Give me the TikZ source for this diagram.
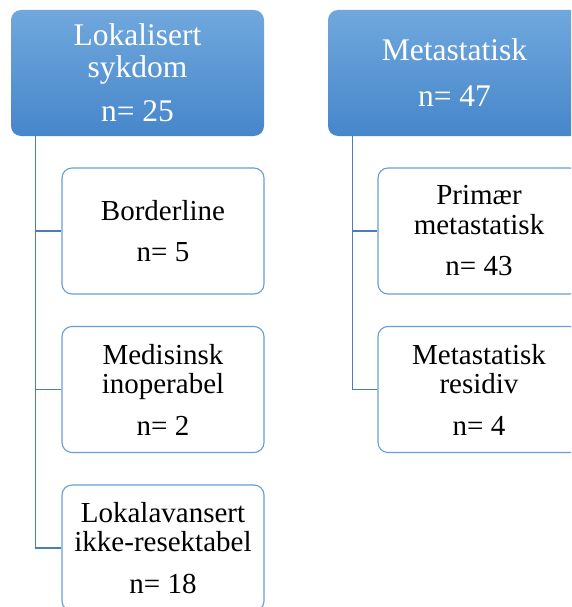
\documentclass[tikz,border=0pt]{standalone}
\usepackage{fontspec}
\setmainfont{Liberation Serif}
\definecolor{boxtop}{RGB}{112,168,221}
\definecolor{boxbot}{RGB}{70,134,202}
\definecolor{boxline}{RGB}{104,158,216}
\definecolor{linkline}{RGB}{74,126,187}
\tikzset{
    headbox/.style={rounded corners=10pt, top color=boxtop, bottom color=boxbot,
        draw=none, text=white, minimum width=253pt, minimum height=126pt,
        align=center, inner sep=0pt, font=\fontsize{31.5}{32}\selectfont},
    subbox/.style={rounded corners=10pt, draw=boxline, line width=1.1pt, fill=white,
        minimum width=202pt, minimum height=126pt, align=center, inner sep=0pt,
        font=\fontsize{29}{29.5}\selectfont},
    link/.style={draw=linkline, line width=1.1pt}
}
\begin{document}
\begin{tikzpicture}[x=1pt,y=-1pt]
        \clip (0,0) rectangle (571,607);
        \fill[white] (0,0) rectangle (571,607);

        % Lokalisert sykdom
        \node[headbox] (lok) at (137.5,73) {Lokalisert\\sykdom\\[12pt]n= 25};
        \node[subbox] (bord) at (163,231) {Borderline\\[11pt]n= 5};
        \node[subbox] (med) at (163,389.5) {Medisinsk\\inoperabel\\[12pt]n= 2};
        \node[subbox] (lav) at (163,548) {Lokalavansert\\ikke-resektabel\\[12pt]n= 18};
        \draw[link] ([xshift=25pt]lok.south west) |- (bord.west);
        \draw[link] ([xshift=25pt]lok.south west) |- (med.west);
        \draw[link] ([xshift=25pt]lok.south west) |- (lav.west);

        % Metastatisk
        \node[headbox] (meta) at (454.5,73) {Metastatisk\\[14pt]n= 47};
        \node[subbox] (prim) at (479,231) {Primær\\metastatisk\\[12pt]n= 43};
        \node[subbox] (resid) at (479,389.5) {Metastatisk\\residiv\\[12pt]n= 4};
        \draw[link] ([xshift=25pt]meta.south west) |- (prim.west);
        \draw[link] ([xshift=25pt]meta.south west) |- (resid.west);
    \end{tikzpicture}
\end{document}
